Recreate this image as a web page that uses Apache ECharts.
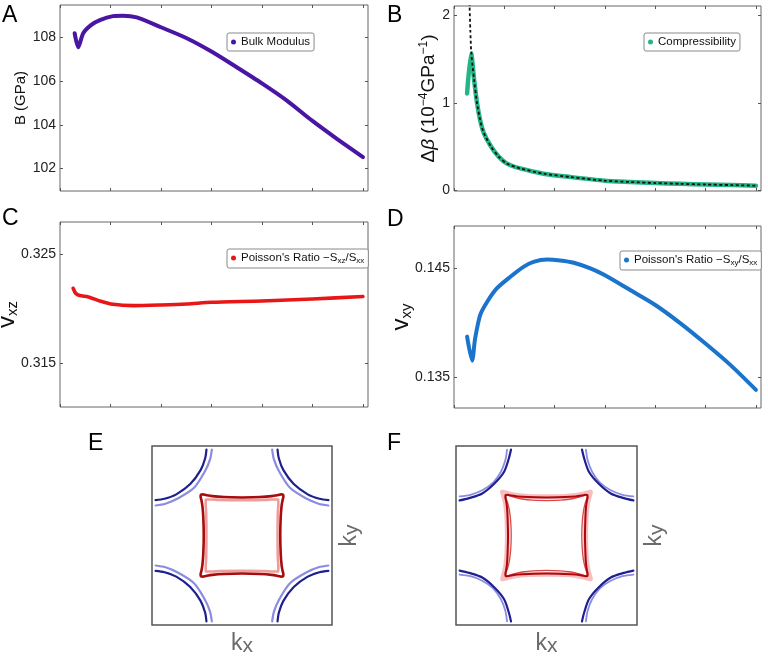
<!DOCTYPE html>
<html><head><meta charset="utf-8">
<script src="https://cdn.jsdelivr.net/npm/echarts@6/dist/echarts.min.js"></script>
<style>html,body{margin:0;padding:0;background:#fff}#c{width:768px;height:661px}</style>
</head><body><div id="c"></div>
<script>
// ---------------- data ----------------
const xTicks = [0, 1, 2, 3, 4, 5, 6];
const yTicksA = [102, 104, 106, 108];
const yTicksB = [0, 1, 2];
const yTicksC = [0.315, 0.325];
const yTicksD = [0.135, 0.145];

// A: bulk modulus (GPa)
const xA = [0.29, 0.36, 0.46, 0.62, 0.79, 1.05, 1.25, 1.52, 2.0, 2.51, 3.0, 3.5, 4.0, 4.5, 5.0, 5.49, 6.0];
const yA = [108.2, 107.55, 108.2, 108.58, 108.8, 108.98, 109.0, 108.92, 108.47, 107.97, 107.36, 106.64, 105.9, 105.1, 104.18, 103.35, 102.52];

// B: compressibility change and fit
const xB = [0.26, 0.34, 0.40, 0.457, 0.52, 0.589, 0.735, 0.887, 1.053, 1.318, 1.78, 2.31, 2.99, 3.5, 4.0, 4.5, 5.0, 5.5, 6.0];
const yB = [1.107, 1.565, 1.26, 1.0, 0.80, 0.66, 0.50, 0.385, 0.305, 0.25, 0.19, 0.152, 0.11, 0.095, 0.083, 0.074, 0.066, 0.06, 0.053];
const xFit = [0.300, 0.310, 0.325, 0.344, 0.40, 0.457, 0.52, 0.589, 0.735, 0.887, 1.053, 1.318, 1.78, 2.31, 2.99, 3.5, 4.0, 4.5, 5.0, 5.5, 6.0];
const yFit = [2.40, 2.10, 1.82, 1.57, 1.26, 1.0, 0.80, 0.66, 0.50, 0.385, 0.305, 0.25, 0.19, 0.152, 0.11, 0.095, 0.083, 0.074, 0.066, 0.06, 0.053];

// C: Poisson's ratio xz
const xC = [0.26, 0.31, 0.39, 0.56, 0.79, 1.05, 1.45, 2.0, 2.51, 3.0, 4.0, 5.0, 6.0];
const yC = [0.32188, 0.32142, 0.32121, 0.32109, 0.32072, 0.32041, 0.32029, 0.32035, 0.32044, 0.3206, 0.32072, 0.3209, 0.32112];

// D: Poisson's ratio xy
const xD = [0.26, 0.36, 0.42, 0.52, 0.66, 0.85, 1.12, 1.38, 1.58, 1.85, 2.11, 2.38, 2.71, 2.99, 3.5, 4.0, 4.5, 4.99, 5.49, 6.0];
const yD = [0.13875, 0.13655, 0.1386, 0.14073, 0.14195, 0.14317, 0.14424, 0.14515, 0.14561, 0.14582, 0.14573, 0.14552, 0.145, 0.14439, 0.14302, 0.14165, 0.13997, 0.13814, 0.13616, 0.13387];

// E, F: Fermi-surface contours (top-right corner arcs; first-octant of central pockets)
const arcDarkE  = [[0.395,0.96],[0.41,0.86],[0.46,0.73],[0.575,0.575],[0.73,0.46],[0.86,0.41],[0.96,0.395]];
const arcLightE = [[0.335,0.96],[0.355,0.85],[0.41,0.72],[0.533,0.533],[0.72,0.41],[0.85,0.355],[0.96,0.335]];
const octDarkE  = [[0,0.425],[0.2,0.43],[0.33,0.44],[0.40,0.452],[0.435,0.46],[0.456,0.456]];
const octPinkE  = [[0,0.395],[0.25,0.398],[0.34,0.403],[0.385,0.403],[0.402,0.402]];

const arcDarkF  = [[0.392,0.96],[0.418,0.855],[0.47,0.71],[0.578,0.578],[0.71,0.47],[0.855,0.418],[0.96,0.392]];
const arcLightF = [[0.436,0.96],[0.455,0.84],[0.505,0.71],[0.59,0.59],[0.71,0.505],[0.84,0.455],[0.96,0.436]];
const octPaleF  = [[0,0.432],[0.2,0.437],[0.32,0.447],[0.40,0.462],[0.45,0.476],[0.485,0.485]];
const octDarkF  = [[0,0.425],[0.2,0.43],[0.32,0.437],[0.39,0.447],[0.43,0.455],[0.452,0.452]];
const octThinF  = [[0,0.39],[0.15,0.395],[0.27,0.408],[0.35,0.425],[0.41,0.445],[0.45,0.45]];

// ---------------- helpers ----------------
const FONT = '"Liberation Sans", Arial, sans-serif';
const zip = (xs, ys) => xs.map((x, i) => [x, ys[i]]);
const corners = arc => [arc, arc.map(([x,y]) => [-x,y]), arc.map(([x,y]) => [-x,-y]), arc.map(([x,y]) => [x,-y])];
function loop(oct) {
  const q1 = oct.concat(oct.slice(0, -1).reverse().map(([x,y]) => [y,x]));
  const q4 = q1.slice().reverse().map(([x,y]) => [x,-y]).slice(1);
  const q3 = q1.map(([x,y]) => [-x,-y]).slice(1);
  const q2 = q1.slice().reverse().map(([x,y]) => [-x,y]).slice(1);
  return q1.concat(q4, q3, q2);
}

const axisCol = '#555';
const tick = values => ({show:true, inside:true, length:3, customValues:values, lineStyle:{color:axisCol}});
function xAx(gi, pos, min, max) {
  return { type:'value', gridIndex:gi, position:pos, min, max,
    axisLine:{show:false, onZero:false}, splitLine:{show:false}, axisLabel:{show:false},
    axisTick: tick(xTicks) };
}
function yAx(gi, pos, min, max, ticks, name, nameGap, labels, nameStyle, noMove) {
  const ax = { type:'value', gridIndex:gi, position:pos, min, max,
    axisLine:{show:false, onZero:false}, splitLine:{show:false},
    axisTick: tick(ticks),
    axisLabel:{show:labels, customValues:ticks, margin:4, fontFamily:FONT, fontSize:14, color:'#222',
      formatter: v => String(+v.toFixed(3))} };
  if (name) {
    ax.name = name; ax.nameLocation = 'middle'; ax.nameRotate = 90; ax.nameGap = nameGap;
    ax.nameTextStyle = nameStyle;
    if (noMove) ax.nameMoveOverlap = false;
  }
  return ax;
}
function boxAx(gi, isX, pos, name, nameGap) {
  const ax = { type:'value', gridIndex:gi, position:pos, min:-1, max:1,
    axisLine:{show:false, onZero:false}, axisTick:{show:false}, axisLabel:{show:false}, splitLine:{show:false} };
  if (name) {
    ax.name = name; ax.nameLocation = 'middle'; ax.nameGap = nameGap;
    if (!isX) ax.nameRotate = 90;
    ax.nameTextStyle = { color:'#6a6a6a', fontFamily:FONT,
      rich:{ k:{fontSize:23, lineHeight:26, color:'#6a6a6a', fontFamily:FONT},
             s:{fontSize:21, lineHeight:15, verticalAlign:'bottom', color:'#6a6a6a', fontFamily:FONT} } };
  }
  return ax;
}

const gridBox = { show:true, borderColor:'#666', borderWidth:1, backgroundColor:'transparent', outerBoundsMode:'none', containLabel:false };
const grids = [
  Object.assign({ left:60,  top:5,   width:308, height:186 }, gridBox),
  Object.assign({ left:454, top:6,   width:307, height:185 }, gridBox),
  Object.assign({ left:60,  top:222, width:308, height:185 }, gridBox),
  Object.assign({ left:454, top:226, width:307, height:182 }, gridBox),
  Object.assign({ left:152, top:446, width:180, height:179 }, gridBox, {borderColor:'#555', borderWidth:1.5}),
  Object.assign({ left:456, top:446, width:181, height:179 }, gridBox, {borderColor:'#555', borderWidth:1.5})
];

const yr = { A:[100.97,109.49], B:[-0.008,2.106], C:[0.31102,0.32794], D:[0.13221,0.14889] };

const vStyle = { fontFamily:FONT, color:'#111',
  rich:{ v:{fontSize:24, lineHeight:26, fontFamily:FONT, color:'#111'},
         s:{fontSize:15, lineHeight:14, verticalAlign:'bottom', fontFamily:FONT, color:'#111'} } };
const dbStyle = { fontFamily:FONT, color:'#111',
  rich:{ n:{fontSize:19, lineHeight:22, fontFamily:FONT, color:'#111'},
         i:{fontSize:19, lineHeight:22, fontStyle:'italic', fontFamily:FONT, color:'#111'},
         p:{fontSize:12, lineHeight:12, verticalAlign:'top', fontFamily:FONT, color:'#111'} } };

const xAxes = [
  xAx(0,'bottom',0,6.1), xAx(1,'bottom',0,6.1), xAx(2,'bottom',0,6.1), xAx(3,'bottom',0,6.1),
  xAx(0,'top',0,6.1), xAx(1,'top',0,6.1), xAx(2,'top',0,6.1), xAx(3,'top',0,6.1),
  boxAx(4,true,'bottom','{k|k}{s|x}',6), boxAx(5,true,'bottom','{k|k}{s|x}',6)
];
const yAxes = [
  yAx(0,'left',yr.A[0],yr.A[1],yTicksA,'B (GPa)',30,true,{fontFamily:FONT,fontSize:15,color:'#111'}),
  yAx(1,'left',yr.B[0],yr.B[1],yTicksB,'{n|Δ}{i|β}{n| (10}{p|−4}{n|GPa}{p|−1}{n|)}',12,true,dbStyle),
  yAx(2,'left',yr.C[0],yr.C[1],yTicksC,'{v|v}{s|xz}',40,true,vStyle,true),
  yAx(3,'left',yr.D[0],yr.D[1],yTicksD,'{v|v}{s|xy}',40,true,vStyle,true),
  yAx(0,'right',yr.A[0],yr.A[1],yTicksA,null,0,false),
  yAx(1,'right',yr.B[0],yr.B[1],yTicksB,null,0,false),
  yAx(2,'right',yr.C[0],yr.C[1],yTicksC,null,0,false),
  yAx(3,'right',yr.D[0],yr.D[1],yTicksD,null,0,false),
  boxAx(4,false,'left',null,0), boxAx(4,false,'right','{k|k}{s|y}',5),
  boxAx(5,false,'left',null,0), boxAx(5,false,'right','{k|k}{s|y}',5)
];

const NAME_C = "Poisson's Ratio −Sxz/Sxx";
const NAME_D = "Poisson's Ratio −Sxy/Sxx";
const richNames = {};
richNames[NAME_C] = "{n|Poisson's Ratio −S}{s|xz}{n|/S}{s|xx}";
richNames[NAME_D] = "{n|Poisson's Ratio −S}{s|xy}{n|/S}{s|xx}";

function mainLine(name, xi, yi, data, color, width, extra) {
  return Object.assign({ type:'line', name, xAxisIndex:xi, yAxisIndex:yi, data,
    showSymbol:false, symbol:'circle', smooth:0.25, color, itemStyle:{color},
    lineStyle:{width, color, cap:'round', join:'round'}, silent:true, z:2 }, extra || {});
}
function contour(xi, yi, data, color, width, z) {
  return { type:'line', xAxisIndex:xi, yAxisIndex:yi, data, showSymbol:false, smooth:0.3,
    lineStyle:{width, color, cap:'round', join:'round'}, silent:true, z:z||2, animation:false };
}

const series = [
  mainLine('Bulk Modulus', 0, 0, zip(xA,yA), '#4a15a3', 4),
  mainLine('Compressibility', 1, 1, zip(xB,yB), '#22b585', 4.5),
  mainLine('fit', 1, 1, zip(xFit,yFit), '#111', 1.8, {z:3, lineStyle:{width:1.8, color:'#111', type:[3,2.5]}}),
  mainLine(NAME_C, 2, 2, zip(xC,yC), '#e81616', 3.6),
  mainLine(NAME_D, 3, 3, zip(xD,yD), '#1b74cc', 4)
];
// E
corners(arcLightE).forEach(a => series.push(contour(8, 8, a, '#8b8be3', 2.2)));
corners(arcDarkE).forEach(a => series.push(contour(8, 8, a, '#1f1f8e', 2.2)));
series.push(contour(8, 8, loop(octPinkE), '#ee9c9c', 2.6));
series.push(contour(8, 8, loop(octDarkE), '#a80c0c', 2.6, 3));
// F
corners(arcLightF).forEach(a => series.push(contour(9, 10, a, '#8b8be3', 1.8)));
corners(arcDarkF).forEach(a => series.push(contour(9, 10, a, '#1f1f8e', 2.2)));
series.push(contour(9, 10, loop(octPaleF), 'rgba(236,110,110,0.45)', 5));
series.push(contour(9, 10, loop(octThinF), '#d94848', 1.3, 3));
series.push(contour(9, 10, loop(octDarkF), '#b0070c', 2, 4));

function legend(name, left, top) {
  return { data:[name], left, top, orient:'horizontal', icon:'circle', itemWidth:5, itemHeight:5,
    padding:[3,4,3,4], borderColor:'#8a8a8a', borderWidth:1, borderRadius:2, backgroundColor:'#fff',
    selectedMode:false, formatter: n => richNames[n] || n,
    textStyle:{ fontFamily:FONT, fontSize:11.5, color:'#111',
      rich:{ n:{fontSize:11.5, lineHeight:14, fontFamily:FONT, color:'#111'},
             s:{fontSize:8, lineHeight:8, verticalAlign:'bottom', fontFamily:FONT, color:'#111'} } } };
}

const letters = [['A',2,4],['B',387,4],['C',2,207],['D',387,208],['E',88,432],['F',387,432]];

const option = {
  animation:false,
  backgroundColor:'#fff',
  grid: grids,
  xAxis: xAxes,
  yAxis: yAxes,
  legend: [
    legend('Bulk Modulus', 227, 33),
    legend('Compressibility', 644, 33),
    legend(NAME_C, 227, 249),
    legend(NAME_D, 620, 251)
  ],
  graphic: letters.map(([t,l,tp]) => ({ type:'text', left:l, top:tp,
    style:{ text:t, fontSize:23, fontFamily:FONT, fill:'#000' } })),
  series
};

const chart = echarts.init(document.getElementById('c'), null, {renderer:'canvas'});
chart.setOption(option);
</script>
</body></html>
